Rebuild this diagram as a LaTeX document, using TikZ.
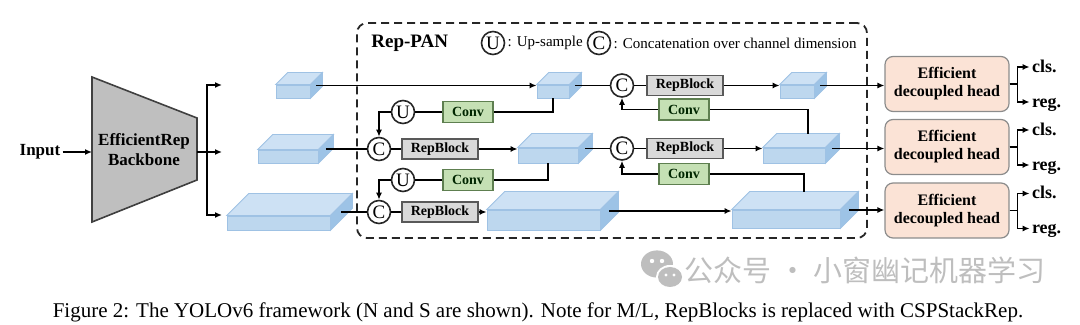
\documentclass[tikz,border=0pt]{standalone}
\usepackage{fontspec}
\setmainfont{Liberation Serif}
\newfontfamily\cjkfont{Noto Sans CJK SC}
\usepackage{tikz}
\usetikzlibrary{arrows.meta,positioning,calc}
\definecolor{fmfront}{HTML}{BDD7EE}
\definecolor{fmtopc}{HTML}{CDE1F4}
\definecolor{fmsidec}{HTML}{9DC3E6}
\definecolor{fmedge}{HTML}{9FC2E4}
\definecolor{rbfill}{HTML}{D9D9D9}
\definecolor{rbdraw}{HTML}{595959}
\definecolor{convfill}{HTML}{C5E0B4}
\definecolor{convdraw}{HTML}{5E7F50}
\definecolor{headfill}{HTML}{FBE3D6}
\definecolor{headdraw}{HTML}{8C8C8C}
\definecolor{bbfill}{HTML}{BFBFBF}
\definecolor{wmgray}{HTML}{BEBEBE}

\begin{document}
\begin{tikzpicture}[
    x=0.5pt, y=-0.5pt,
    fmap/.style={
        draw=fmedge,
        fill=fmfront,
        inner sep=0pt,
        line width=0.4pt
    },
    fmtop/.style={draw=fmedge, fill=fmtopc, line width=0.4pt},
    fmside/.style={draw=fmedge, fill=fmsidec, line width=0.4pt},
    repblock/.style={
        draw=rbdraw,
        fill=rbfill,
        line width=0.8pt,
        minimum width=38pt,
        minimum height=10pt,
        inner sep=0pt,
        font=\fontsize{7}{8}\selectfont\bfseries
    },
    convbox/.style={
        draw=convdraw,
        fill=convfill,
        line width=0.8pt,
        minimum width=25pt,
        minimum height=10.5pt,
        inner sep=0pt,
        text=green!15!black,
        font=\fontsize{7}{8}\selectfont\bfseries
    },
    op/.style={
        circle,
        draw=black!85,
        fill=white,
        line width=0.8pt,
        minimum size=11.5pt,
        inner sep=0pt,
        font=\fontsize{9.5}{10}\selectfont
    },
    head/.style={
        draw=headdraw,
        fill=headfill,
        rounded corners=4pt,
        line width=0.6pt,
        align=center,
        minimum width=62pt,
        minimum height=27.5pt,
        font=\fontsize{8}{9}\selectfont\bfseries
    },
    backbone/.style={draw=black!75, fill=bbfill, line width=0.8pt},
    panbox/.style={
        draw=black!85,
        dash pattern=on 4pt off 2.5pt,
        rounded corners=5pt,
        line width=0.9pt,
        minimum width=255pt,
        minimum height=107.5pt
    },
    arrow/.style={-{Latex[length=3.5pt,width=3pt]}, line width=0.7pt},
    link/.style={line width=0.7pt},
    lbl/.style={font=\fontsize{8.5}{10}\selectfont\bfseries, inner sep=1pt},
    outlbl/.style={font=\fontsize{9}{10}\selectfont\bfseries, inner sep=1pt,
        text height=5.5pt, text depth=0pt},
    legtxt/.style={font=\fontsize{7.5}{9}\selectfont, inner sep=1pt}
]
\useasboundingbox (0,0) rectangle (1080,325);

% Input and backbone
\node[lbl] (input) at (40,152) {Input};
\draw[backbone] (92,77) -- (197,118) -- (197,180) -- (92,222) -- cycle;
\node[lbl, align=center] (bb) at (144,150) {EfficientRep\\Backbone};
\coordinate (bbin) at (92,152);
\coordinate (bbout) at (197,152);
\coordinate (split) at (207,152);
\coordinate (o1) at (222,85);
\coordinate (o2) at (222,152);
\coordinate (o3) at (222,215);
\draw[arrow] (input.east) -- (bbin);
\draw[link] (bbout) -- (split);
\foreach \o in {o1,o2,o3}
    \draw[arrow] (split) |- (\o);

% Rep-PAN frame and legend
\node[panbox] (pan) at (612,130.5) {};
\node[anchor=west, inner sep=1pt, font=\fontsize{9.5}{11}\selectfont\bfseries]
    (pantitle) at (369,43) {Rep-PAN};
\node[op] (legu) at (493,43) {U};
\node[legtxt, right=0pt of legu] (legutxt) {: Up-sample};
\node[op] (legc) at (599,43) {C};
\node[legtxt, right=0pt of legc] (legctxt) {: Concatenation over channel dimension};

% Feature maps (front faces)
\node[fmap, minimum width=17pt, minimum height=6.5pt] (bk1) at (293,91.5) {};
\node[fmap, minimum width=30pt, minimum height=6.5pt] (bk2) at (288,156.5) {};
\node[fmap, minimum width=51.5pt, minimum height=7pt] (bk3) at (278.5,223) {};
\node[fmap, minimum width=16pt, minimum height=6.5pt] (td1) at (553,91.5) {};
\node[fmap, minimum width=30pt, minimum height=7.5pt] (td2) at (548,155.5) {};
\node[fmap, minimum width=56.5pt, minimum height=10pt] (td3) at (543.5,220) {};
\node[fmap, minimum width=17pt, minimum height=6.5pt] (out1) at (797,91.5) {};
\node[fmap, minimum width=31pt, minimum height=7.5pt] (out2) at (794,155.5) {};
\node[fmap, minimum width=54pt, minimum height=9pt] (out3) at (786,219) {};

% top and side faces
\foreach \f/\off in {bk1/12, bk2/15, bk3/22, td1/12, td2/14, td3/18, out1/12, out2/14, out3/18} {
    \draw[fmtop] (\f.north west) -- ++(\off,-\off) -- ($(\f.north east)+(\off,-\off)$) -- (\f.north east) -- cycle;
    \draw[fmside] (\f.north east) -- ++(\off,-\off) -- ($(\f.south east)+(\off,-\off)$) -- (\f.south east) -- cycle;
    \coordinate (\f-out) at ($(\f.east)+(\off/2,-\off/2)$);
    \coordinate (\f-top) at ($(\f.north)+(\off,-\off)$);
}

% Top-down path
\node[convbox] (conv1) at (468,112) {Conv};
\node[op] (up1) at (403,112) {U};
\node[op] (cat1) at (379,149) {C};
\node[repblock] (rep1) at (440,149) {RepBlock};
\node[convbox] (conv2) at (468,180) {Conv};
\node[op] (up2) at (403,180) {U};
\node[op] (cat2) at (379,212) {C};
\node[repblock] (rep2) at (440,212) {RepBlock};

% Bottom-up path
\node[convbox] (conv3) at (684,174) {Conv};
\node[op] (cat3) at (622,148.5) {C};
\node[repblock] (rep3) at (685,148.5) {RepBlock};
\node[convbox] (conv4) at (684,109.5) {Conv};
\node[op] (cat4) at (622,85.5) {C};
\node[repblock] (rep4) at (685,85.5) {RepBlock};

% Heads
\node[head] (head1) at (947,84) {Efficient\\decoupled head};
\node[head] (head2) at (947,147) {Efficient\\decoupled head};
\node[head] (head3) at (947,210.5) {Efficient\\decoupled head};

% Connections
\draw[arrow] (bk1-out) -- (bk1-out -| td1.west);
\draw[link] (td1.south) |- (conv1.east);
\draw[link] (conv1) -- (up1);
\draw[arrow] (up1.west) -| (cat1.north);
\draw[link] (bk2-out) -- (cat1);
\draw[link] (cat1) -- (rep1);
\draw[arrow] (rep1.east) -- (rep1.east -| td2.west);
\draw[link] (td2.south) |- (conv2.east);
\draw[link] (conv2) -- (up2);
\draw[arrow] (up2.west) -| (cat2.north);
\draw[link] (bk3-out) -- (cat2);
\draw[link] (cat2) -- (rep2);
\draw[arrow] (rep2.east) -- (rep2.east -| td3.west);

\draw[arrow] (td3-out) -- (td3-out -| out3.west);
\draw[link] (out3-top) |- (conv3.east);
\draw[arrow] (conv3.west) -| (cat3.south);
\draw[link] (td2-out) -- (cat3);
\draw[link] (cat3) -- (rep3);
\draw[arrow] (rep3.east) -- (rep3.east -| out2.west);
\draw[link] (out2-top) |- (conv4.east);
\draw[arrow] (conv4.west) -| (cat4.south);
\draw[link] (td1-out) -- (cat4);
\draw[link] (cat4) -- (rep4);
\draw[arrow] (rep4.east) -- (rep4.east -| out1.west);

\foreach \i in {1,2,3} {
    \draw[arrow] (out\i-out) -- (out\i-out -| head\i.west);
    \node[outlbl, anchor=west] (cls\i) at ($(head\i.east)+(20,-17)$) {cls.};
    \node[outlbl, anchor=west] (reg\i) at ($(head\i.east)+(20,18)$) {reg.};
    \draw[arrow] (head\i.east) -- ++(8,0) |- (cls\i.west);
    \draw[arrow] (head\i.east) -- ++(8,0) |- (reg\i.west);
}

% Watermark
\fill[wmgray] (657,264) ellipse [x radius=8pt, y radius=6.8pt];
\fill[white] (670,277) ellipse [x radius=7pt, y radius=6pt];
\fill[wmgray] (670,277) ellipse [x radius=6pt, y radius=5pt];
\fill[white] (652,261) circle [radius=1.1pt] (662,261) circle [radius=1.1pt];
\fill[white] (666,275) circle [radius=0.8pt] (674,275) circle [radius=0.8pt];
\node[text=wmgray, inner sep=0pt, font=\fontsize{14.5}{16}\selectfont] (wm) at (865,270)
    {\cjkfont 公众号 · 小窗幽记机器学习};

% Caption
\node[inner sep=0pt, font=\fontsize{10.5}{12}\selectfont] (cap) at (538,312)
    {Figure 2: The YOLOv6 framework (N and S are shown). Note for M/L, RepBlocks is replaced with CSPStackRep.};

\end{tikzpicture}
\end{document}
